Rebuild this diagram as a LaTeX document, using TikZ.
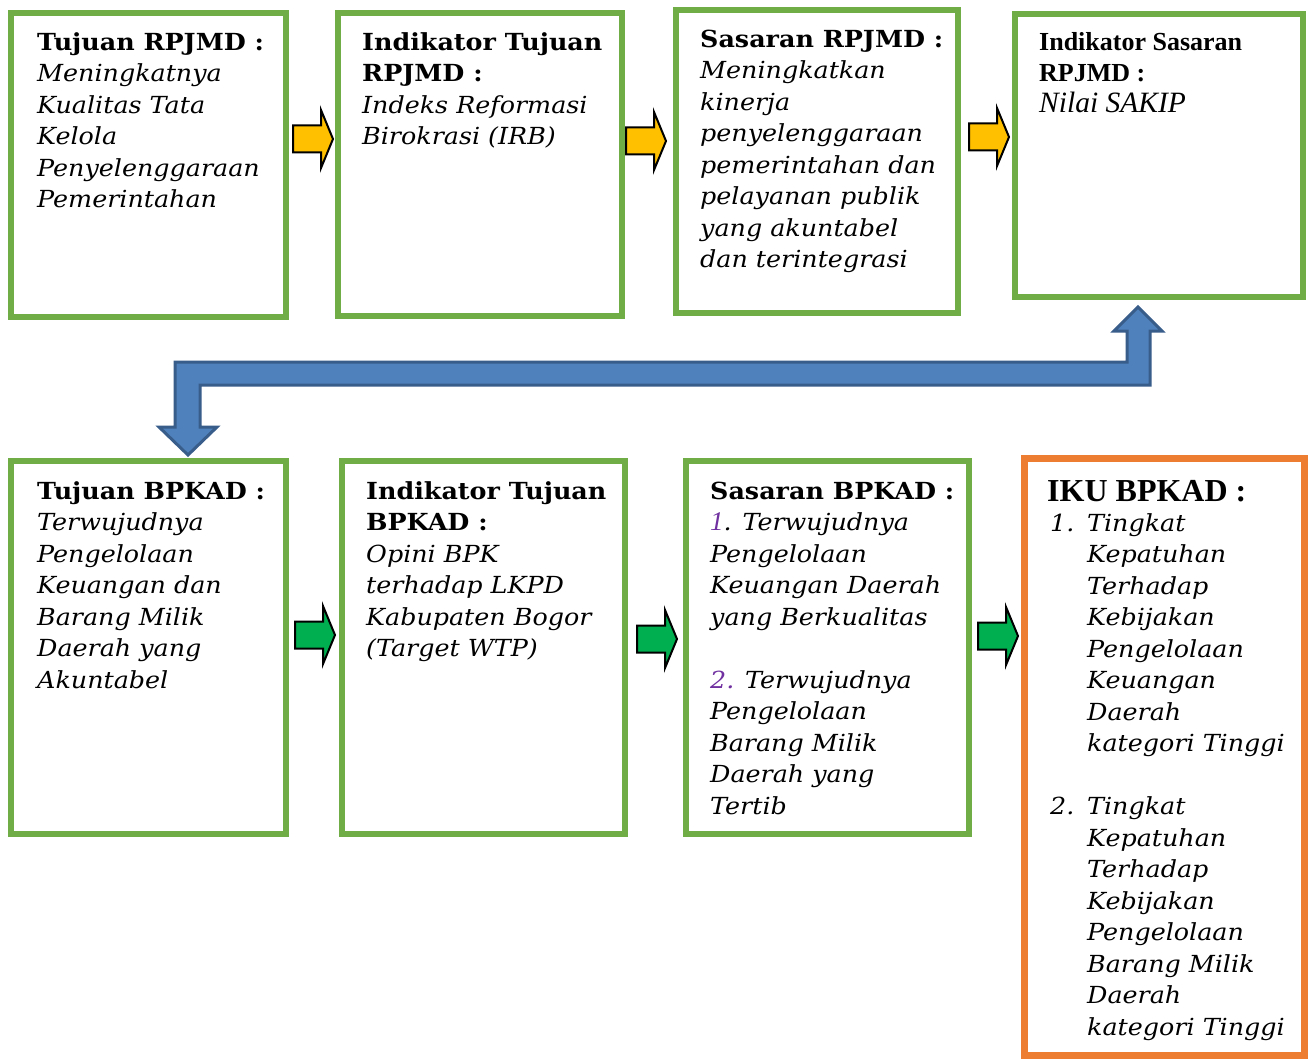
\documentclass[tikz,border=0pt]{standalone}
\usepackage{fontspec}
\setmainfont{DejaVu Serif}[FakeStretch=1.08]
\newfontfamily\tnr{Liberation Serif}
\definecolor{boxgreen}{HTML}{70AD47}
\definecolor{boxorange}{HTML}{ED7D31}
\definecolor{arryellow}{HTML}{FFC000}
\definecolor{arrgreen}{HTML}{00B050}
\definecolor{bluefill}{HTML}{4F81BD}
\definecolor{blueline}{HTML}{385D8A}
\definecolor{purp}{HTML}{7030A0}
\newcommand\bkf{\fontsize{23.5}{31.5}\selectfont}
\newcommand\ind{\hspace*{37pt}}
\tikzset{
  gbox/.style={draw=boxgreen, line width=6pt},
  obox/.style={draw=boxorange, line width=7pt},
  txt/.style={anchor=north west, inner sep=0pt, align=left, font=\bkf\itshape},
  blockarr/.style={draw=black, line width=2pt, line join=miter},
  pics/rarr/.style={code={\draw[blockarr, fill=#1] (0,-13.5) -- (28,-13.5) -- (28,-29) -- (40,0) -- (28,29) -- (28,13.5) -- (0,13.5) -- cycle;}}
}
\begin{document}
\begin{tikzpicture}[x=1pt,y=-1pt]
\useasboundingbox[fill=white] (0,0) rectangle (1308,1059);
% top row boxes
\draw[gbox] (11,13) rectangle (286,317);
\draw[gbox] (338,13) rectangle (622,316);
\draw[gbox] (676,10) rectangle (958,313);
\draw[gbox] (1015,14) rectangle (1303,297);
% bottom row boxes
\draw[gbox] (11,461) rectangle (286,834);
\draw[gbox] (342,461) rectangle (625,834);
\draw[gbox] (686,461) rectangle (969,834);
\draw[obox] (1024.5,458) rectangle (1304.5,1055.5);
% block arrows
\pic at (293,139) {rarr=arryellow};
\pic at (626,141) {rarr=arryellow};
\pic at (969,137) {rarr=arryellow};
\pic at (295,635) {rarr=arrgreen};
\pic at (637,639) {rarr=arrgreen};
\pic at (978,636) {rarr=arrgreen};
% blue u-turn arrow
\draw[draw=blueline, fill=bluefill, line width=3pt, line join=miter]
  (188,455) -- (217,427) -- (200,427) -- (200,385) -- (1150,385) -- (1150,331)
  -- (1162,331) -- (1138,307) -- (1114,331) -- (1127,331) -- (1127,362)
  -- (175,362) -- (175,427) -- (159,427) -- cycle;
% texts top row
\node[txt] (t1) at (37,28) {\strut{\bfseries\upshape Tujuan RPJMD :}\\Meningkatnya\\Kualitas Tata\\Kelola\\Penyelenggaraan\\Pemerintahan};
\node[txt] (t2) at (362,28) {\strut{\bfseries\upshape Indikator Tujuan}\\{\bfseries\upshape RPJMD :}\\Indeks Reformasi\\Birokrasi (IRB)};
\node[txt] (t3) at (700,25) {\strut{\bfseries\upshape Sasaran RPJMD :}\\Meningkatkan\\kinerja\\penyelenggaraan\\pemerintahan dan\\pelayanan publik\\yang akuntabel\\dan terintegrasi};
\node[txt, font=\tnr\fontsize{26}{31}\selectfont] (t4) at (1039,29) {\strut\textbf{Indikator Sasaran}\\\textbf{RPJMD :}\\{\fontsize{29.5}{31}\selectfont\itshape Nilai SAKIP}};
% texts bottom row
\node[txt] (t5) at (37,477) {\strut{\bfseries\upshape Tujuan BPKAD :}\\Terwujudnya\\Pengelolaan\\Keuangan dan\\Barang Milik\\Daerah yang\\Akuntabel};
\node[txt] (t6) at (366,477) {\strut{\bfseries\upshape Indikator Tujuan}\\{\bfseries\upshape BPKAD :}\\Opini BPK\\terhadap LKPD\\Kabupaten Bogor\\(Target WTP)};
\node[txt] (t7) at (710,477) {\strut{\bfseries\upshape Sasaran BPKAD :}\\{\tnr\fontsize{27}{31.5}\selectfont\color{purp}1}. Terwujudnya\\Pengelolaan\\Keuangan Daerah\\yang Berkualitas\\[31.5pt]{\color{purp}2.} Terwujudnya\\Pengelolaan\\Barang Milik\\Daerah yang\\Tertib};
\node[anchor=base west, inner sep=0pt, font=\tnr\bfseries\fontsize{32}{38}\selectfont] (t8) at (1047,501) {IKU BPKAD :};
\node[txt] (l8) at (1050,509) {\strut\makebox[37pt][l]{1.}Tingkat\\\ind Kepatuhan\\\ind Terhadap\\\ind Kebijakan\\\ind Pengelolaan\\\ind Keuangan\\\ind Daerah\\\ind kategori Tinggi\\[31.5pt]\makebox[37pt][l]{2.}Tingkat\\\ind Kepatuhan\\\ind Terhadap\\\ind Kebijakan\\\ind Pengelolaan\\\ind Barang Milik\\\ind Daerah\\\ind kategori Tinggi};
\end{tikzpicture}
\end{document}
